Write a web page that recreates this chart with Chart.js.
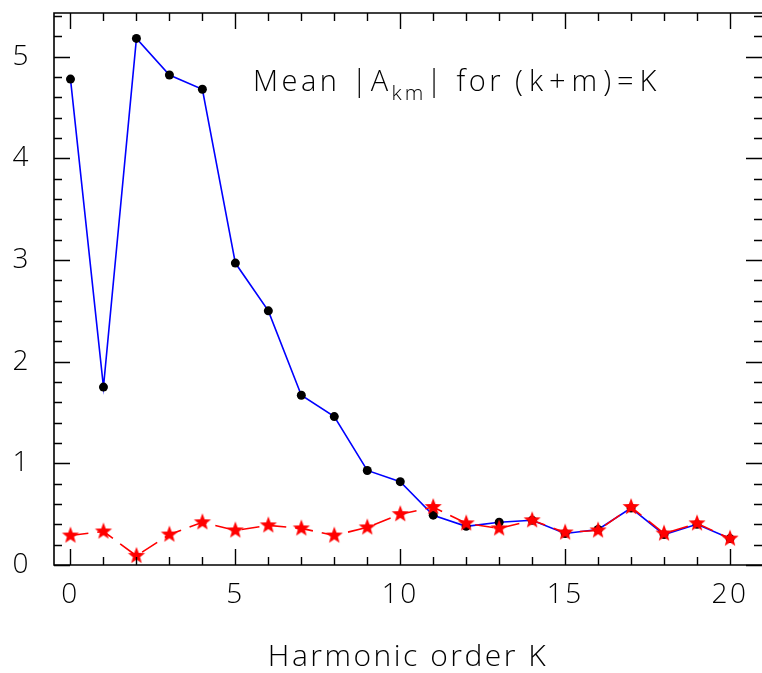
<html lang="en">
<head>
    <meta charset="UTF-8"></meta>
    <style>
        body { margin: 0; background: #fff; }
        #wrap { width: 762px; height: 673px; }
    </style>
    <script src="https://cdn.jsdelivr.net/npm/chart.js"></script>
</head>
<body>
<div id="wrap"><canvas id="harm" width="762" height="673"></canvas></div>
<script>
    // harmonic order K
    const orders = [0, 1, 2, 3, 4, 5, 6, 7, 8, 9, 10, 11, 12, 13, 14, 15, 16, 17, 18, 19, 20];
    // blue line, black dots
    const meanA = [4.78, 1.75, 5.18, 4.82, 4.68, 2.97, 2.50, 1.67, 1.46, 0.93, 0.82,
                   0.49, 0.38, 0.42, 0.44, 0.31, 0.35, 0.56, 0.30, 0.40, 0.26];
    // red dashed line, stars
    const meanB = [0.29, 0.33, 0.09, 0.30, 0.42, 0.34, 0.39, 0.36, 0.29, 0.37, 0.50,
                   0.57, 0.41, 0.36, 0.44, 0.32, 0.34, 0.57, 0.31, 0.41, 0.26];
    const xTicks = [0, 5, 10, 15, 20];
    const yTicks = [0, 1, 2, 3, 4, 5];

    const FONT = "'Open Sans', 'DejaVu Sans', sans-serif";
    const SPACING = "2.5px";

    // filled five point star for the red series
    function makeStar(r, color) {
        const c = document.createElement("canvas");
        c.width = c.height = r * 2 + 2;
        const g = c.getContext("2d");
        g.fillStyle = color;
        g.beginPath();
        for (let i = 0; i < 10; i++) {
            const rad = i % 2 === 0 ? r : r * 0.42;
            const a = -Math.PI / 2 + i * Math.PI / 5;
            const px = r + 1 + rad * Math.cos(a), py = r + 1 + rad * Math.sin(a);
            if (i === 0) g.moveTo(px, py); else g.lineTo(px, py);
        }
        g.closePath();
        g.fill();
        return c;
    }
    const star = makeStar(9, "#ff0000");

    // wide lettering like the original plot font
    const spacingPlugin = {
        id: "spacing",
        beforeDraw(chart) { chart.ctx.letterSpacing = SPACING; }
    };

    // frame with inward major/minor ticks on all sides
    const framePlugin = {
        id: "frame",
        afterDraw(chart) {
            const ctx = chart.ctx, a = chart.chartArea;
            const xs = chart.scales.x, ys = chart.scales.y;
            ctx.save();
            ctx.strokeStyle = "#000";
            ctx.lineWidth = 1.6;
            ctx.beginPath();
            ctx.moveTo(a.right + 2, a.top); ctx.lineTo(a.left, a.top);
            ctx.lineTo(a.left, a.bottom); ctx.lineTo(a.right + 2, a.bottom);
            ctx.stroke();
            ctx.lineWidth = 1.4;
            ctx.beginPath();
            for (let k = 0; k <= 20; k++) {
                const px = Math.round(xs.getPixelForValue(k)) + 0.5;
                const len = k % 5 === 0 ? 16 : 8;
                ctx.moveTo(px, a.bottom); ctx.lineTo(px, a.bottom - len);
                ctx.moveTo(px, a.top); ctx.lineTo(px, a.top + len);
            }
            for (let i = 0; i <= 27; i++) {
                const v = i * 0.2;
                if (v > ys.max) break;
                const py = Math.round(ys.getPixelForValue(v)) + 0.5;
                const len = i % 5 === 0 ? 16 : 8;
                ctx.moveTo(a.left, py); ctx.lineTo(a.left + len, py);
                ctx.moveTo(a.right, py); ctx.lineTo(a.right - len, py);
            }
            ctx.stroke();

            // in-plot title with subscript
            let x = a.left + 199;
            const base = a.top + 78;
            ctx.fillStyle = "#000";
            ctx.textAlign = "left";
            ctx.textBaseline = "alphabetic";
            const part = (txt, size, sp, dy) => {
                ctx.letterSpacing = sp;
                ctx.font = "300 " + size + "px " + FONT;
                ctx.fillText(txt, x, base + dy);
                x += ctx.measureText(txt).width;
            };
            part("Mean |A", 29, "3.5px", 0);
            part("km", 21, "3px", 9);
            part("| for ", 29, "3.5px", 0);
            part("(k+m)=K", 29, "6px", 0);
            ctx.restore();
        }
    };

    function noPad(s) {
        s.paddingTop = 0; s.paddingBottom = 0; s.paddingLeft = 0; s.paddingRight = 0;
    }

    new Chart(document.getElementById("harm"), {
        type: "line",
        data: {
            labels: orders,
            datasets: [
                {
                    data: meanB,
                    borderColor: "#ff0000",
                    borderWidth: 1.6,
                    borderDash: [18, 9],
                    pointStyle: star,
                    pointRadius: 9,
                    order: 0
                },
                {
                    data: meanA,
                    borderColor: "#0000ff",
                    borderWidth: 1.6,
                    pointStyle: "circle",
                    pointRadius: 4.5,
                    pointBackgroundColor: "#000",
                    pointBorderColor: "#000",
                    pointBorderWidth: 0,
                    order: 1
                }
            ]
        },
        options: {
            responsive: false,
            animation: false,
            layout: { autoPadding: false, padding: { top: 13, right: 0, left: 0, bottom: 0 } },
            plugins: { legend: { display: false }, tooltip: { enabled: false } },
            elements: { line: { tension: 0 } },
            scales: {
                x: {
                    type: "linear",
                    min: -0.5,
                    max: 20.97,
                    grid: { display: false, drawTicks: false },
                    border: { display: false },
                    afterFit(s) { s.height = 108; noPad(s); },
                    afterBuildTicks(s) { s.ticks = xTicks.map(v => ({ value: v })); },
                    ticks: {
                        autoSkip: false,
                        maxRotation: 0,
                        padding: 13,
                        color: "#000",
                        font: { family: FONT, size: 28, weight: 300 }
                    },
                    title: {
                        display: true,
                        text: "Harmonic order K",
                        color: "#000",
                        padding: { top: 0, bottom: 1 },
                        font: { family: FONT, size: 30, weight: 300, lineHeight: 1 }
                    }
                },
                y: {
                    min: 0,
                    max: 5.43,
                    grid: { display: false, drawTicks: false },
                    border: { display: false },
                    afterFit(s) { s.width = 54; noPad(s); },
                    afterBuildTicks(s) { s.ticks = yTicks.map(v => ({ value: v })); },
                    ticks: {
                        padding: 23,
                        color: "#000",
                        font: { family: FONT, size: 28, weight: 300 }
                    }
                }
            }
        },
        plugins: [spacingPlugin, framePlugin]
    });
</script>
</body>
</html>
